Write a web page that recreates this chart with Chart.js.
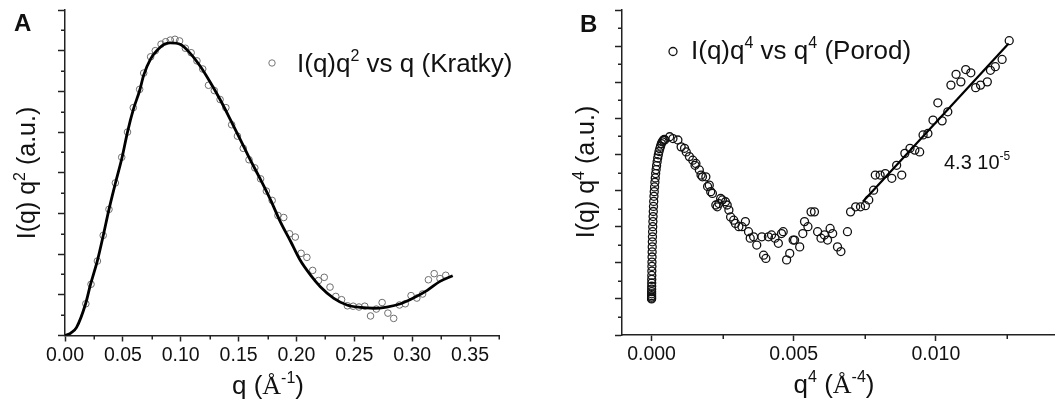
<!DOCTYPE html>
<html>
<head>
<meta charset="utf-8">
<script src="https://cdn.jsdelivr.net/npm/chart.js@4.4.1/dist/chart.umd.min.js"></script>
<style>
  body { margin: 0; background: #fff; }
  #wrap { position: relative; width: 1060px; height: 405px; }
  canvas { position: absolute; top: 0; }
  #kratky { left: 0; }
  #porod { left: 530px; }
</style>
</head>
<body>
<div id="wrap">
  <canvas id="kratky" width="530" height="405"></canvas>
  <canvas id="porod" width="530" height="405"></canvas>
</div>
<script>
// ---- Panel A: Kratky plot, I(q)q^2 vs q ----
const qA = [0.018, 0.0225, 0.028, 0.033, 0.038, 0.0435, 0.049, 0.054, 0.059, 0.0645,
  0.068, 0.074, 0.078, 0.083, 0.087, 0.091, 0.095, 0.099, 0.104, 0.109,
  0.114, 0.119, 0.124, 0.129, 0.134, 0.139, 0.144, 0.149, 0.154, 0.159,
  0.164, 0.169, 0.174, 0.179, 0.184, 0.189, 0.194, 0.199, 0.204, 0.209,
  0.214, 0.219, 0.224, 0.229, 0.234, 0.239, 0.244, 0.249, 0.254, 0.259,
  0.264, 0.269, 0.274, 0.279, 0.284, 0.289, 0.294, 0.299, 0.304, 0.309,
  0.314, 0.319, 0.324, 0.329];
const kratkyA = [0.78, 1.26, 1.83, 2.46, 3.1, 3.75, 4.38, 5.0, 5.6, 6.05,
  6.45, 6.85, 7.0, 7.16, 7.22, 7.26, 7.28, 7.24, 7.06, 6.95,
  6.75, 6.55, 6.15, 6.02, 5.8, 5.6, 5.18, 4.9, 4.6, 4.32,
  4.12, 3.85, 3.55, 3.32, 2.95, 2.9, 2.5, 2.42, 2.02, 1.92,
  1.6, 1.35, 1.43, 1.19, 0.96, 0.88, 0.73, 0.72, 0.7, 0.72,
  0.48, 0.65, 0.81, 0.55, 0.42, 0.75, 0.78, 0.98, 0.92, 1.02,
  1.37, 1.52, 1.4, 1.48];
// fitted curve through the Kratky data
const fitQA = [0, 0.005, 0.010, 0.0178, 0.022, 0.028, 0.033, 0.038, 0.0437, 0.0495,
  0.054, 0.059, 0.0647, 0.068, 0.074, 0.080, 0.0854, 0.091, 0.0998, 0.108,
  0.117, 0.126, 0.134, 0.143, 0.1516, 0.160, 0.169, 0.1775, 0.186, 0.195,
  0.203, 0.212, 0.2206, 0.232, 0.2436, 0.255, 0.2666, 0.278, 0.290, 0.301,
  0.313, 0.324, 0.335];
const fitA = [0, 0.06, 0.2, 0.78, 1.25, 1.84, 2.45, 3.1, 3.76, 4.4,
  5.0, 5.55, 6.04, 6.4, 6.8, 7.02, 7.15, 7.19, 7.15, 6.94,
  6.61, 6.2, 5.8, 5.3, 4.81, 4.32, 3.83, 3.34, 2.8, 2.31,
  1.86, 1.49, 1.2, 0.92, 0.75, 0.69, 0.67, 0.70, 0.78, 0.92,
  1.11, 1.33, 1.47];
const xTicksA = [0, 0.05, 0.10, 0.15, 0.20, 0.25, 0.30, 0.35];
const xLabelsA = ['0.00', '0.05', '0.10', '0.15', '0.20', '0.25', '0.30', '0.35'];
const xMinorA = [0.025, 0.075, 0.125, 0.175, 0.225, 0.275, 0.325, 0.375];
const yTicksA = [0, 1, 2, 3, 4, 5, 6, 7, 8];
const yMinorA = [0.5, 1.5, 2.5, 3.5, 4.5, 5.5, 6.5, 7.5];

// ---- Panel B: Porod plot, I(q)q^4 vs q^4 ----
const q4B = [0, 0, 0.000001, 0.000001, 0.000002, 0.000002, 0.000003, 0.000004, 0.000005, 0.000006,
  0.000008, 0.00001, 0.000012, 0.000014, 0.000017, 0.00002, 0.000023, 0.000027, 0.000031, 0.000036,
  0.000041, 0.000047, 0.000053, 0.00006, 0.000067, 0.000075, 0.000084, 0.000094, 0.000105, 0.000117,
  0.00013, 0.000144, 0.00016, 0.000177, 0.000196, 0.000216, 0.000238, 0.000262, 0.000288, 0.000316,
  0.000346, 0.000378, 0.000412, 0.000448,
  0.000463, 0.000637, 0.000752, 0.000926, 0.00104, 0.00116, 0.00122, 0.00133, 0.00145, 0.00153,
  0.00156, 0.00168, 0.00174, 0.00179, 0.00191, 0.00197, 0.00203, 0.00208, 0.00214, 0.00226,
  0.00231, 0.00237, 0.00243, 0.00249, 0.00260, 0.00266, 0.00272, 0.00278, 0.00289, 0.00295,
  0.00307, 0.00318, 0.00330, 0.00341, 0.00347, 0.00359, 0.00370, 0.00388, 0.00394, 0.00402,
  0.00411, 0.00422, 0.00434, 0.00446, 0.00457, 0.00463, 0.00475, 0.00486, 0.00498, 0.00503,
  0.00521, 0.00532, 0.00538, 0.00550, 0.00561, 0.00573, 0.00584, 0.00596, 0.00608, 0.00619,
  0.00628, 0.00637, 0.00654, 0.00666, 0.00689, 0.00700, 0.00718, 0.00735, 0.00752, 0.00764,
  0.00781, 0.00787, 0.00804, 0.00822, 0.00845, 0.00862, 0.00880, 0.00891, 0.00909, 0.00926,
  0.00943, 0.00955, 0.00972, 0.00990, 0.01007, 0.01022, 0.01042, 0.01053, 0.01071, 0.01088,
  0.01105, 0.01123, 0.01140, 0.01157, 0.01181, 0.01192, 0.01209, 0.01233, 0.01258];
const porodB = [1.0, 1.02, 1.05, 1.09, 1.14, 1.2, 1.27, 1.35, 1.44, 1.54,
  1.65, 1.77, 1.9, 2.02, 2.16, 2.3, 2.44, 2.58, 2.72, 2.86,
  3.0, 3.14, 3.28, 3.42, 3.56, 3.7, 3.84, 3.97, 4.1, 4.23,
  4.35, 4.47, 4.58, 4.69, 4.8, 4.9, 4.99, 5.08, 5.16, 5.23,
  5.3, 5.35, 5.39, 5.42,
  5.40, 5.49, 5.44, 5.40, 5.21, 5.17, 5.07, 4.94, 4.84, 4.70,
  4.75, 4.57, 4.43, 4.38, 4.38, 4.11, 4.15, 3.97, 3.92, 3.60,
  3.55, 3.64, 3.78, 3.74, 3.69, 3.60, 3.46, 3.27, 3.18, 3.09,
  3.00, 3.00, 3.14, 2.86, 2.68, 2.72, 2.49, 2.72, 2.21, 2.12,
  2.72, 2.77, 2.68, 2.54, 2.81, 2.86, 2.08, 2.26, 2.63, 2.63,
  2.44, 2.81, 3.14, 3.00, 3.41, 3.41, 2.86, 2.68, 2.77, 2.63,
  2.95, 2.81, 2.44, 2.31, 2.86, 3.41, 3.55, 3.55, 3.58, 3.74,
  4.01, 4.43, 4.43, 4.47, 4.34, 4.70, 4.43, 5.03, 5.17, 5.12,
  5.07, 5.54, 5.58, 5.95, 6.43, 5.93, 6.18, 6.92, 7.22, 7.01,
  7.35, 7.26, 6.85, 6.92, 7.01, 7.33, 7.43, 7.63, 8.15];
// linear Porod fit (slope label 4.3 10^-5)
const fitQ4B = [0.00743, 0.01256];
const fitB = [3.69, 8.07];
const xTicksB = [0, 0.005, 0.010];
const xLabelsB = ['0.000', '0.005', '0.010'];
const xMinorB = [0.0025, 0.0075, 0.0125];
const yTicksB = [0, 1, 2, 3, 4, 5, 6, 7, 8, 9];
const yMinorB = [0.5, 1.5, 2.5, 3.5, 4.5, 5.5, 6.5, 7.5, 8.5];

const SANS = "'Liberation Sans', Arial, sans-serif";
const SERIF = "'Liberation Serif', 'Times New Roman', serif";
const INK = '#111';

function toPoints(xs, ys) {
  return xs.map((x, i) => ({ x: x, y: ys[i] }));
}

// draws text made of parts: [text, isSuperscript, family]
function drawRich(ctx, parts, x, y, size, align) {
  const fontOf = p => (p[1] ? Math.round(size * 0.62) : size) + 'px ' + (p[2] || SANS);
  const widths = parts.map(p => { ctx.font = fontOf(p); return ctx.measureText(p[0]).width; });
  const total = widths.reduce((a, b) => a + b, 0);
  let cx = align === 'center' ? x - total / 2 : x;
  ctx.textAlign = 'left';
  ctx.textBaseline = 'alphabetic';
  parts.forEach((p, i) => {
    ctx.font = fontOf(p);
    ctx.fillText(p[0], cx, p[1] ? y - size * 0.42 : y);
    cx += widths[i];
  });
}

// minor tick marks, placed with the chart's own scales
const minorTicks = {
  id: 'minorTicks',
  afterDraw(chart, args, opts) {
    const ctx = chart.ctx;
    const xs = chart.scales.x, ys = chart.scales.y;
    ctx.save();
    ctx.strokeStyle = '#222';
    ctx.lineWidth = 1.5;
    ctx.beginPath();
    opts.x.forEach(v => {
      const px = Math.round(xs.getPixelForValue(v)) + 0.25;
      ctx.moveTo(px, xs.top);
      ctx.lineTo(px, xs.top + 4);
    });
    opts.y.forEach(v => {
      const py = Math.round(ys.getPixelForValue(v)) + 0.25;
      ctx.moveTo(ys.right, py);
      ctx.lineTo(ys.right - 4, py);
    });
    ctx.stroke();
    ctx.restore();
  }
};

const textA = {
  id: 'textA',
  afterDraw(chart) {
    const ctx = chart.ctx;
    ctx.save();
    ctx.fillStyle = INK;
    ctx.font = 'bold 24px ' + SANS;
    ctx.textBaseline = 'alphabetic';
    ctx.fillText('A', 14, 31);
    // y title
    ctx.save();
    ctx.translate(28, 173);
    ctx.rotate(-Math.PI / 2);
    drawRich(ctx, [['I(q) q'], ['2', true], [' (a.u.)']], 0, 7, 25, 'center');
    ctx.restore();
    // x title
    drawRich(ctx, [['q ('], ['\u00C5', false, SERIF], ['-1', true], [')']], 268, 394, 26, 'center');
    // legend
    ctx.strokeStyle = '#777';
    ctx.lineWidth = 1;
    ctx.beginPath();
    ctx.arc(272, 63, 3.2, 0, Math.PI * 2);
    ctx.stroke();
    drawRich(ctx, [['I(q)q'], ['2', true], [' vs q (Kratky)']], 297, 72, 26, 'left');
    ctx.restore();
  }
};

const textB = {
  id: 'textB',
  afterDraw(chart) {
    const ctx = chart.ctx;
    ctx.save();
    ctx.fillStyle = INK;
    ctx.font = 'bold 24px ' + SANS;
    ctx.textBaseline = 'alphabetic';
    ctx.fillText('B', 50, 31.5);
    ctx.save();
    ctx.translate(57, 172);
    ctx.rotate(-Math.PI / 2);
    drawRich(ctx, [['I(q) q'], ['4', true], [' (a.u.)']], 0, 7, 25, 'center');
    ctx.restore();
    drawRich(ctx, [['q'], ['4', true], [' ('], ['\u00C5', false, SERIF], ['-4', true], [')']], 304, 393, 26, 'center');
    ctx.strokeStyle = '#111';
    ctx.lineWidth = 1.3;
    ctx.beginPath();
    ctx.arc(143, 51.5, 4, 0, Math.PI * 2);
    ctx.stroke();
    drawRich(ctx, [['I(q)q'], ['4', true], [' vs q'], ['4', true], [' (Porod)']], 161, 58.5, 26, 'left');
    drawRich(ctx, [['4.3 10'], ['-5', true]], 414, 168.5, 20, 'left');
    ctx.restore();
  }
};

function axisX(min, max, ticks, labels, height) {
  return {
    type: 'linear', min: min, max: max,
    afterBuildTicks: s => { s.ticks = ticks.map(v => ({ value: v })); },
    afterFit: s => { s.height = height; },
    border: { display: true, color: '#222', width: 1.5 },
    grid: { drawOnChartArea: false, drawTicks: true, tickLength: 6, tickColor: '#222', tickWidth: 1.5 },
    ticks: {
      color: INK, font: { family: SANS, size: 19.5 }, padding: 2,
      maxRotation: 0, autoSkip: false,
      callback: (v, i) => labels[i]
    }
  };
}

function axisY(min, max, ticks, width) {
  return {
    type: 'linear', min: min, max: max,
    afterBuildTicks: s => { s.ticks = ticks.map(v => ({ value: v })); },
    afterFit: s => { s.width = width; },
    border: { display: true, color: '#222', width: 1.5 },
    grid: { drawOnChartArea: false, drawTicks: true, tickLength: 7, tickColor: '#222', tickWidth: 1.5 },
    ticks: { display: false }
  };
}

new Chart(document.getElementById('kratky'), {
  type: 'scatter',
  data: {
    datasets: [
      {
        label: 'fit',
        data: toPoints(fitQA, fitA),
        showLine: true,
        borderColor: '#000',
        borderWidth: 2.8,
        pointRadius: 0,
        cubicInterpolationMode: 'monotone'
      },
      {
        label: 'I(q)q2 vs q (Kratky)',
        data: toPoints(qA, kratkyA),
        pointRadius: 3.3,
        borderColor: '#6e6e6e',
        borderWidth: 1,
        backgroundColor: 'rgba(0,0,0,0)'
      }
    ]
  },
  options: {
    responsive: false,
    animation: false,
    devicePixelRatio: 1,
    layout: { padding: { left: 0, top: 10, right: 31, bottom: 0 } },
    plugins: {
      legend: { display: false },
      tooltip: { enabled: false },
      minorTicks: { x: xMinorA, y: yMinorA }
    },
    scales: {
      x: axisX(0, 0.375, xTicksA, xLabelsA, 69.5),
      y: axisY(0, 8, yTicksA, 65)
    }
  },
  plugins: [minorTicks, textA]
});

new Chart(document.getElementById('porod'), {
  type: 'scatter',
  data: {
    datasets: [
      {
        label: 'fit',
        data: toPoints(fitQ4B, fitB),
        showLine: true,
        borderColor: '#000',
        borderWidth: 2.2,
        pointRadius: 0
      },
      {
        label: 'I(q)q4 vs q4 (Porod)',
        data: toPoints(q4B, porodB),
        pointRadius: 4,
        borderColor: '#111',
        borderWidth: 1.3,
        backgroundColor: 'rgba(0,0,0,0)'
      }
    ]
  },
  options: {
    responsive: false,
    animation: false,
    devicePixelRatio: 1,
    layout: { padding: { left: 0, top: 10, right: 0, bottom: 0 } },
    plugins: {
      legend: { display: false },
      tooltip: { enabled: false },
      minorTicks: { x: xMinorB, y: yMinorB }
    },
    scales: {
      x: axisX(-0.00104, 0.01418, xTicksB, xLabelsB, 70),
      y: axisY(0, 9, yTicksB, 92)
    }
  },
  plugins: [minorTicks, textB]
});
</script>
</body>
</html>
